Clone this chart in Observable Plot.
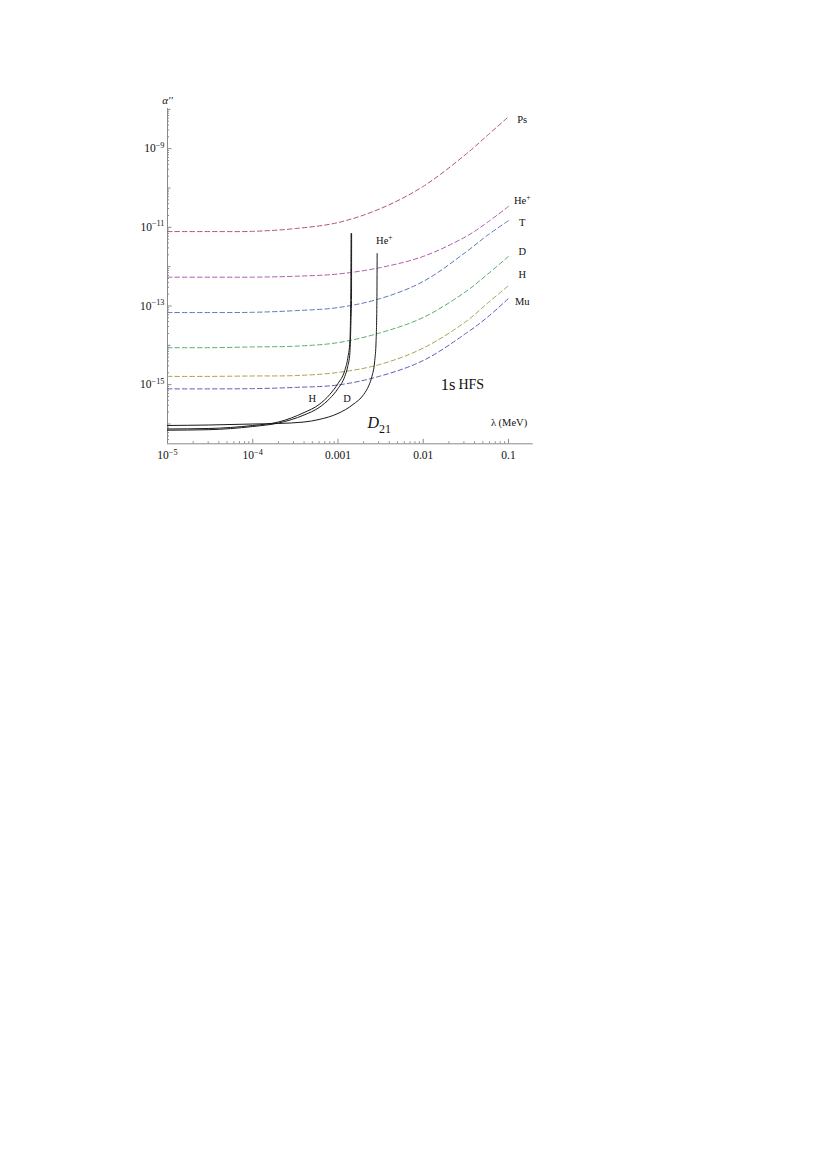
<!DOCTYPE html>
<html><head><meta charset="utf-8">
<script src="https://cdn.jsdelivr.net/npm/d3@7"></script>
<script src="https://cdn.jsdelivr.net/npm/@observablehq/plot@0.6"></script>
<style>html,body{margin:0;padding:0;background:#fff;}</style>
</head><body><div id="chart"></div>
<script>
// ---- dashed series (polarizability vs lambda) ----
const seriesNames = ["Ps", "He^+", "T", "D", "H", "Mu"];
const seriesColors = ["#b25284", "#ae5cac", "#5a78b8", "#5cac6c", "#ada052", "#5c5cb8"];
const lambdaGrid = [1e-5, 3.16e-5, 1e-4, 3.16e-4, 1e-3, 3.16e-3, 1e-2, 3.16e-2, 5.62e-2, 0.1];
const alphaPs = [7.8e-12, 7.8e-12, 7.9e-12, 9.3e-12, 1.32e-11, 3.0e-11, 1.10e-10, 7.2e-10, 2.14e-9, 6.5e-9];
const alphaHe = [5.4e-13, 5.4e-13, 5.4e-13, 5.7e-13, 6.5e-13, 9.5e-13, 1.82e-12, 5.8e-12, 1.32e-11, 3.4e-11];
const alphaT = [6.8e-14, 6.8e-14, 6.9e-14, 7.6e-14, 9.1e-14, 1.55e-13, 4.2e-13, 2.34e-12, 6.2e-12, 1.48e-11];
const alphaD = [8.7e-15, 8.7e-15, 9.1e-15, 9.5e-15, 1.17e-14, 2.09e-14, 5.1e-14, 2.32e-13, 6.28e-13, 1.82e-12];
const alphaH = [1.62e-15, 1.62e-15, 1.66e-15, 1.70e-15, 2.04e-15, 3.3e-15, 8.5e-15, 4.0e-14, 1.15e-13, 3.3e-13];
const alphaMu = [7.8e-16, 7.8e-16, 7.9e-16, 8.5e-16, 9.8e-16, 1.66e-15, 4.1e-15, 2.0e-14, 5.1e-14, 1.55e-13];
const seriesValues = [alphaPs, alphaHe, alphaT, alphaD, alphaH, alphaMu];
const seriesLabelLambda = 0.145;
const seriesLabelAlpha = [5.46e-9, 4.8e-11, 1.32e-11, 2.4e-12, 6.3e-13, 1.28e-13];

// ---- solid D21 curves ----
const lambdaD21H = [1e-5, 3e-5, 1e-4, 2e-4, 4e-4, 6e-4, 8e-4, 1e-3, 1.2e-3, 1.3e-3, 1.38e-3, 1.41e-3, 1.425e-3];
const d21H = [7.45e-17, 7.66e-17, 9.14e-17, 1.12e-16, 1.95e-16, 3.12e-16, 5.60e-16, 1.07e-15, 2.28e-15, 4.60e-15, 1.32e-14, 1.37e-13, 6.92e-12];
const lambdaD21D = [1e-5, 3e-5, 1e-4, 2e-4, 4e-4, 6e-4, 8e-4, 1e-3, 1.2e-3, 1.3e-3, 1.38e-3, 1.42e-3, 1.44e-3, 1.445e-3];
const d21D = [6.94e-17, 7.15e-17, 8.61e-17, 1.057e-16, 1.69e-16, 2.62e-16, 4.43e-16, 7.96e-16, 1.61e-15, 2.88e-15, 6.54e-15, 4.26e-14, 1.37e-13, 6.92e-12];
const lambdaD21He = [1e-5, 3e-5, 1e-4, 2e-4, 4e-4, 6e-4, 1e-3, 1.5e-3, 2e-3, 2.3e-3, 2.5e-3, 2.7e-3, 2.8e-3, 2.86e-3, 2.88e-3];
const d21He = [9.14e-17, 9.40e-17, 9.97e-17, 1.03e-16, 1.12e-16, 1.30e-16, 1.85e-16, 3.12e-16, 5.60e-16, 9.48e-16, 1.61e-15, 4.10e-15, 1.32e-14, 1.37e-13, 2.15e-12];
const d21Labels = ["H", "D", "He^+"];
const d21LabelLambda = [5.0e-4, 1.28e-3, 3.5e-3];
const d21LabelAlpha = [4.4e-16, 4.4e-16, 4.6e-12];

// ---- axes ----
const xDomain = [1e-5, 0.195];
const yDomain = [3.13e-17, 1.05e-8];
const xMajorTicks = [1e-5, 1e-4, 1e-3, 1e-2, 1e-1];
const xTickLabels = ["10^\u22125", "10^\u22124", "0.001", "0.01", "0.1"];
const yMajorTicks = [1e-9, 1e-11, 1e-13, 1e-15];
const yTickLabels = ["10^\u22129", "10^\u221211", "10^\u221213", "10^\u221215"];
const yDecadeTicks = [1e-8, 1e-10, 1e-12, 1e-14, 1e-16];
const minorMultipliers = [2, 3, 4, 5, 6, 7, 8, 9];
const xDecades = [1e-5, 1e-4, 1e-3, 1e-2, 1e-1];
const yDecades = [1e-17, 1e-16, 1e-15, 1e-14, 1e-13, 1e-12, 1e-11, 1e-10, 1e-9, 1e-8];

const xMinor = xDecades.flatMap(d => minorMultipliers.map(m => m * d)).filter(v => v > xDomain[0] && v < xDomain[1]);
const yMinor = yDecades.flatMap(d => minorMultipliers.map(m => m * d)).filter(v => v > yDomain[0] && v < yDomain[1]);

const dashedRows = seriesNames.flatMap((s, i) => lambdaGrid.map((l, j) => ({series: s, lambda: l, alpha: seriesValues[i][j]})));
const solidRows = [
  ...lambdaD21H.map((l, j) => ({series: "H", lambda: l, alpha: d21H[j]})),
  ...lambdaD21D.map((l, j) => ({series: "D", lambda: l, alpha: d21D[j]})),
  ...lambdaD21He.map((l, j) => ({series: "He", lambda: l, alpha: d21He[j]}))
];

const W = 828, Hgt = 470;
const mL = 167, mR = 295.3, mT = 108, mB = 26.7;
const innerW = W - mL - mR, innerH = Hgt - mT - mB;
const axisColor = "#8a8a8a";
const textColor = "#111";

const chart = Plot.plot({
  width: W, height: Hgt,
  marginLeft: mL, marginRight: mR, marginTop: mT, marginBottom: mB,
  style: {fontFamily: "'Liberation Serif', 'Times New Roman', serif", fontSize: "11px", background: "#fff", color: textColor},
  x: {type: "log", domain: xDomain, axis: null},
  y: {type: "log", domain: yDomain, axis: null},
  color: {domain: seriesNames, range: seriesColors},
  marks: [
    // axis lines
    Plot.ruleX([xDomain[0]], {stroke: axisColor, strokeWidth: 1}),
    Plot.ruleY([yDomain[0]], {stroke: axisColor, strokeWidth: 1}),
    // y ticks
    Plot.tickY(yMajorTicks, {y: d => d, insetRight: innerW - 4.5, stroke: axisColor}),
    Plot.tickY(yDecadeTicks, {y: d => d, insetRight: innerW - 3.5, stroke: axisColor}),
    Plot.tickY(yMinor, {y: d => d, insetRight: innerW - 2, stroke: axisColor}),
    // x ticks
    Plot.tickX(xMajorTicks, {x: d => d, insetTop: innerH - 4.5, stroke: axisColor}),
    Plot.tickX(xMinor, {x: d => d, insetTop: innerH - 2, stroke: axisColor}),
    // tick labels
    Plot.text(yMajorTicks, {y: d => d, text: (d, i) => yTickLabels[i], frameAnchor: "left", dx: -3, textAnchor: "end", lineAnchor: "middle", fontSize: 11.5, fill: textColor}),
    Plot.text(xMajorTicks, {x: d => d, text: (d, i) => xTickLabels[i], frameAnchor: "bottom", dy: 12, lineAnchor: "middle", fontSize: 11.5, fill: textColor}),
    // axis titles
    Plot.text(["\u03B1\u2032\u2032"], {frameAnchor: "top-left", dy: -12, textAnchor: "middle", fontStyle: "italic", fontSize: 11, fill: textColor}),
    Plot.text(["\u03BB (MeV)"], {frameAnchor: "bottom-right", dx: -6, dy: -18, textAnchor: "end", fontSize: 10.5, fill: textColor}),
    // dashed curves
    Plot.line(dashedRows, {x: "lambda", y: "alpha", z: "series", stroke: "series", strokeWidth: 1, strokeDasharray: "4.5,3", curve: "catmull-rom"}),
    // solid curves
    Plot.line(solidRows, {x: "lambda", y: "alpha", z: "series", stroke: "#1a1a1a", strokeWidth: 1, curve: "monotone-x"}),
    // labels
    Plot.text(seriesNames, {x: () => seriesLabelLambda, y: (d, i) => seriesLabelAlpha[i], text: d => d, lineAnchor: "middle", fontSize: 10.5, fill: textColor}),
    Plot.text(d21Labels, {x: (d, i) => d21LabelLambda[i], y: (d, i) => d21LabelAlpha[i], text: d => d, lineAnchor: "middle", fontSize: 10.5, fill: textColor}),
    Plot.text(["1s"], {x: () => 0.0252, y: () => 9.8e-16, text: d => d, textAnchor: "end", dx: -2, lineAnchor: "middle", fontSize: 16.5, fill: textColor}),
    Plot.text(["HFS"], {x: () => 0.0252, y: () => 9.8e-16, text: d => d, textAnchor: "start", dx: 1, lineAnchor: "middle", fontSize: 14, fill: textColor}),
    Plot.text(["D_21"], {x: () => 2.9e-3, y: () => 1.09e-16, text: d => d, textAnchor: "start", dx: -10, lineAnchor: "middle", fontSize: 16, fontStyle: "italic", fill: textColor})
  ]
});

// superscripts / subscripts
const svgNS = "http://www.w3.org/2000/svg";
chart.querySelectorAll("text").forEach(t => {
  if (t.children.length) return;
  const s = t.textContent;
  let m;
  if ((m = s.match(/^(.*)\^(.+)$/))) {
    t.textContent = m[1];
    const ts = document.createElementNS(svgNS, "tspan");
    ts.setAttribute("dy", "-0.55em");
    ts.style.fontSize = "72%";
    ts.textContent = m[2];
    t.appendChild(ts);
  } else if ((m = s.match(/^(.*)_(.+)$/))) {
    t.textContent = m[1];
    const ts = document.createElementNS(svgNS, "tspan");
    ts.setAttribute("dy", "0.45em");
    ts.style.fontSize = "75%";
    ts.style.fontStyle = "normal";
    ts.textContent = m[2];
    t.appendChild(ts);
  }
});
document.getElementById("chart").appendChild(chart);
</script>
</body></html>
